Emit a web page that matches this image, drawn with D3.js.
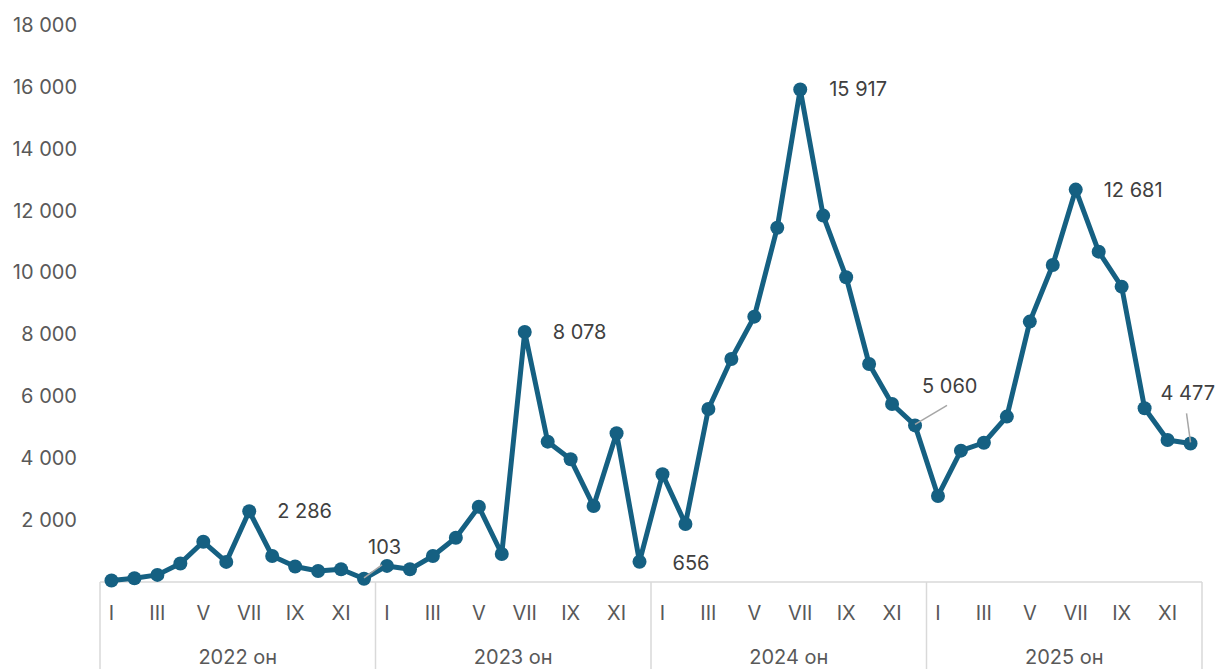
<!DOCTYPE html>
<html>
<head>
<meta charset="utf-8">
<script src="https://cdn.jsdelivr.net/npm/d3@7"></script>
<style>
  body { margin: 0; background: #fff; }
  svg { display: block; font-family: Inter, "Noto Sans", sans-serif; }
</style>
</head>
<body>
<div class="chart"></div>
<script>
// Data
var years = ["2022 он", "2023 он", "2024 он", "2025 он"];
var months = ["I", "II", "III", "IV", "V", "VI", "VII", "VIII", "IX", "X", "XI", "XII"];
var values = [
  50, 120, 230, 600, 1300, 650, 2286, 840, 500, 355, 410, 103,
  520, 410, 840, 1430, 2430, 905, 8078, 4535, 3965, 2455, 4805, 656,
  3480, 1875, 5590, 7207, 8575, 11450, 15917, 11840, 9850, 7045, 5753, 5060,
  2780, 4245, 4500, 5345, 8415, 10245, 12681, 10675, 9545, 5615, 4590, 4477
];
var yTicks = [2000, 4000, 6000, 8000, 10000, 12000, 14000, 16000, 18000];
// labelled points: index, offset of the text, leader line end
var labels = [
  { i: 6, dx: 28, dy: 0 },
  { i: 11, dx: 4, dy: -32, lx: 18, ly: -14 },
  { i: 18, dx: 28, dy: 0 },
  { i: 23, dx: 33, dy: 1 },
  { i: 30, dx: 29, dy: 0 },
  { i: 35, dx: 7, dy: -39, lx: 32, ly: -20 },
  { i: 42, dx: 28, dy: 0 },
  { i: 47, dx: -30, dy: -50, lx: -4, ly: -30 }
];

var svgWidth = 1218, svgHeight = 669;
var color = "#156082";
var axisColor = "#d9d9d9";
var fontSize = "20px";

var svg = d3.select(".chart").append("svg")
  .attr("width", svgWidth)
  .attr("height", svgHeight);

var xScale = d3.scaleBand().domain(d3.range(values.length)).range([100, 1202]);
var yScale = d3.scaleLinear().domain([0, 18000]).range([582, 25]);

function cx(i) { return xScale(i) + xScale.bandwidth() / 2; }
var fmt = function(d) { return d3.format(",")(d).replace(/,/g, " "); };

// y axis labels
var leftAxis = d3.axisLeft(yScale).tickValues(yTicks).tickSize(0).tickPadding(0)
  .tickFormat(fmt);
var yAxis = svg.append("g").attr("transform", "translate(77,0)").call(leftAxis);
yAxis.select(".domain").remove();
yAxis.selectAll("text").attr("font-size", fontSize).attr("fill", "#595959")
  .attr("font-family", "Inter, 'Noto Sans', sans-serif");

// x axis box
svg.append("line")
  .attr("x1", 100).attr("x2", 1202).attr("y1", 582).attr("y2", 582)
  .attr("stroke", axisColor).attr("stroke-width", 1.5);
d3.range(years.length + 1).forEach(function(k) {
  var x = k < years.length ? xScale(k * 12) : xScale.range()[1];
  svg.append("line")
    .attr("x1", x).attr("x2", x).attr("y1", 582).attr("y2", svgHeight)
    .attr("stroke", axisColor).attr("stroke-width", 1.5);
});

// month labels
svg.selectAll(".month")
  .data(d3.range(0, values.length, 2))
  .enter().append("text")
  .attr("x", function(i) { return cx(i); })
  .attr("y", 613)
  .attr("dy", "0.35em")
  .attr("text-anchor", "middle")
  .attr("font-size", fontSize)
  .attr("fill", "#595959")
  .text(function(i) { return months[i % 12]; });

// year labels
svg.selectAll(".year")
  .data(years)
  .enter().append("text")
  .attr("x", function(d, k) { return (xScale(k * 12) + xScale(k * 12 + 11) + xScale.bandwidth()) / 2; })
  .attr("y", 657)
  .attr("dy", "0.35em")
  .attr("text-anchor", "middle")
  .attr("font-size", fontSize)
  .attr("fill", "#595959")
  .text(function(d) { return d; });

// line
var line = d3.line()
  .x(function(d, i) { return cx(i); })
  .y(function(d) { return yScale(d); });

svg.append("path")
  .datum(values)
  .attr("d", line)
  .attr("fill", "none")
  .attr("stroke", color)
  .attr("stroke-width", 5)
  .attr("stroke-linejoin", "round");

svg.selectAll("circle")
  .data(values)
  .enter().append("circle")
  .attr("cx", function(d, i) { return cx(i); })
  .attr("cy", function(d) { return yScale(d); })
  .attr("r", 7)
  .attr("fill", color);

// data labels
labels.forEach(function(l) {
  var px = cx(l.i), py = yScale(values[l.i]);
  if (l.lx !== undefined) {
    svg.append("line")
      .attr("x1", px).attr("y1", py - 1).attr("x2", px + l.lx).attr("y2", py + l.ly)
      .attr("stroke", "#a6a6a6").attr("stroke-width", 1.5);
  }
  svg.append("text")
    .attr("x", px + l.dx)
    .attr("y", py + l.dy)
    .attr("dy", "0.35em")
    .attr("font-size", fontSize)
    .attr("fill", "#404040")
    .text(fmt(values[l.i]));
});
</script>
</body>
</html>
